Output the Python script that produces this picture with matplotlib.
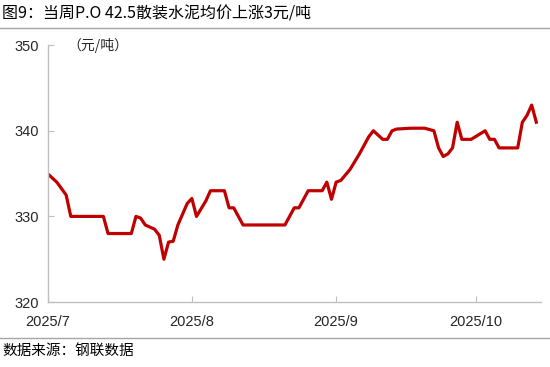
import pandas as pd
import matplotlib.pyplot as plt
import matplotlib.dates as mdates
from matplotlib.lines import Line2D

plt.rcParams['font.family'] = ['Liberation Sans', 'Noto Sans CJK SC', 'DejaVu Sans']

# ─── Data ────────────────────────────────────────────────────────────────
dates = [
    "2025-07-01", "2025-07-03", "2025-07-05", "2025-07-06", "2025-07-13",
    "2025-07-14", "2025-07-19", "2025-07-20", "2025-07-21", "2025-07-22",
    "2025-07-24", "2025-07-25", "2025-07-26", "2025-07-27", "2025-07-28",
    "2025-07-29", "2025-07-31", "2025-08-01", "2025-08-02", "2025-08-04",
    "2025-08-05", "2025-08-08", "2025-08-09", "2025-08-10", "2025-08-12",
    "2025-08-21", "2025-08-23", "2025-08-24", "2025-08-26", "2025-08-29",
    "2025-08-30", "2025-08-31", "2025-09-01", "2025-09-02", "2025-09-04",
    "2025-09-06", "2025-09-08", "2025-09-09", "2025-09-10", "2025-09-11",
    "2025-09-12", "2025-09-13", "2025-09-14", "2025-09-17", "2025-09-20",
    "2025-09-22", "2025-09-23", "2025-09-24", "2025-09-25", "2025-09-26",
    "2025-09-27", "2025-09-28", "2025-09-30", "2025-10-03", "2025-10-04",
    "2025-10-05", "2025-10-06", "2025-10-10", "2025-10-11", "2025-10-12",
    "2025-10-13", "2025-10-14",
]
prices = [
    335.0, 334.0, 332.5, 330.0, 330.0,
    328.0, 328.0, 330.0, 329.8, 329.0,
    328.5, 327.8, 325.0, 327.0, 327.1,
    329.0, 331.5, 332.1, 330.0, 331.8,
    333.0, 333.0, 331.0, 331.0, 329.0,
    329.0, 331.0, 331.0, 333.0, 333.0,
    334.0, 332.0, 334.0, 334.2, 335.5,
    337.3, 339.3, 340.0, 339.5, 339.0,
    339.0, 340.0, 340.2, 340.3, 340.3,
    340.0, 338.0, 337.0, 337.3, 338.0,
    341.0, 339.0, 339.0, 340.0, 339.0,
    339.0, 338.0, 338.0, 341.0, 341.8,
    343.0, 341.0,
]
month_ticks = ["2025-07-01", "2025-08-01", "2025-09-01", "2025-10-01"]
month_labels = ["2025/7", "2025/8", "2025/9", "2025/10"]
y_ticks = [320, 330, 340, 350]

title = "图9：当周P.O 42.5散装水泥均价上涨3元/吨"
unit = "（元/吨）"
source = "数据来源：钢联数据"

x = pd.to_datetime(dates)

# ─── Plot ────────────────────────────────────────────────────────────────
fig = plt.figure(figsize=(5.5, 3.67), dpi=100)
ax = fig.add_axes([0.0864, 0.177, 0.8972, 0.700])

ax.plot(x, prices, color="#C00000", linewidth=2.3, solid_joinstyle="round")

ax.set_xlim(pd.Timestamp("2025-07-01"), pd.Timestamp("2025-10-15"))
ax.set_ylim(320, 350)
ax.set_yticks(y_ticks)
ax.set_xticks(pd.to_datetime(month_ticks))
ax.set_xticklabels(month_labels)

for s in ("top", "right"):
    ax.spines[s].set_visible(False)
for s in ("left", "bottom"):
    ax.spines[s].set_color("#BFBFBF")
    ax.spines[s].set_linewidth(1.0)

ax.tick_params(axis="both", direction="in", color="#BFBFBF", length=4,
               labelsize=10.5, labelcolor="#262626")
ax.tick_params(axis="y", pad=6)
ax.tick_params(axis="x", pad=9)

ax.text(0.04, 1.0, unit, transform=ax.transAxes, fontsize=10,
        va="center", ha="left", family=["Noto Sans CJK SC", "DejaVu Sans"],
        color="#262626")

fig.text(0.004, 0.962, title, fontsize=11.5, va="center", ha="left",
         family=["Noto Sans CJK SC", "DejaVu Sans"], color="#000000")
fig.text(0.004, 0.045, source, fontsize=10.5, va="center", ha="left",
         family=["Noto Sans CJK SC", "DejaVu Sans"], color="#000000")

fig.add_artist(Line2D([0, 1], [0.924, 0.924], transform=fig.transFigure,
                      color="#A6A6A6", linewidth=1.0))
fig.add_artist(Line2D([0, 1], [0.079, 0.079], transform=fig.transFigure,
                      color="#A6A6A6", linewidth=1.0))

fig.savefig("out.png", dpi=100)
